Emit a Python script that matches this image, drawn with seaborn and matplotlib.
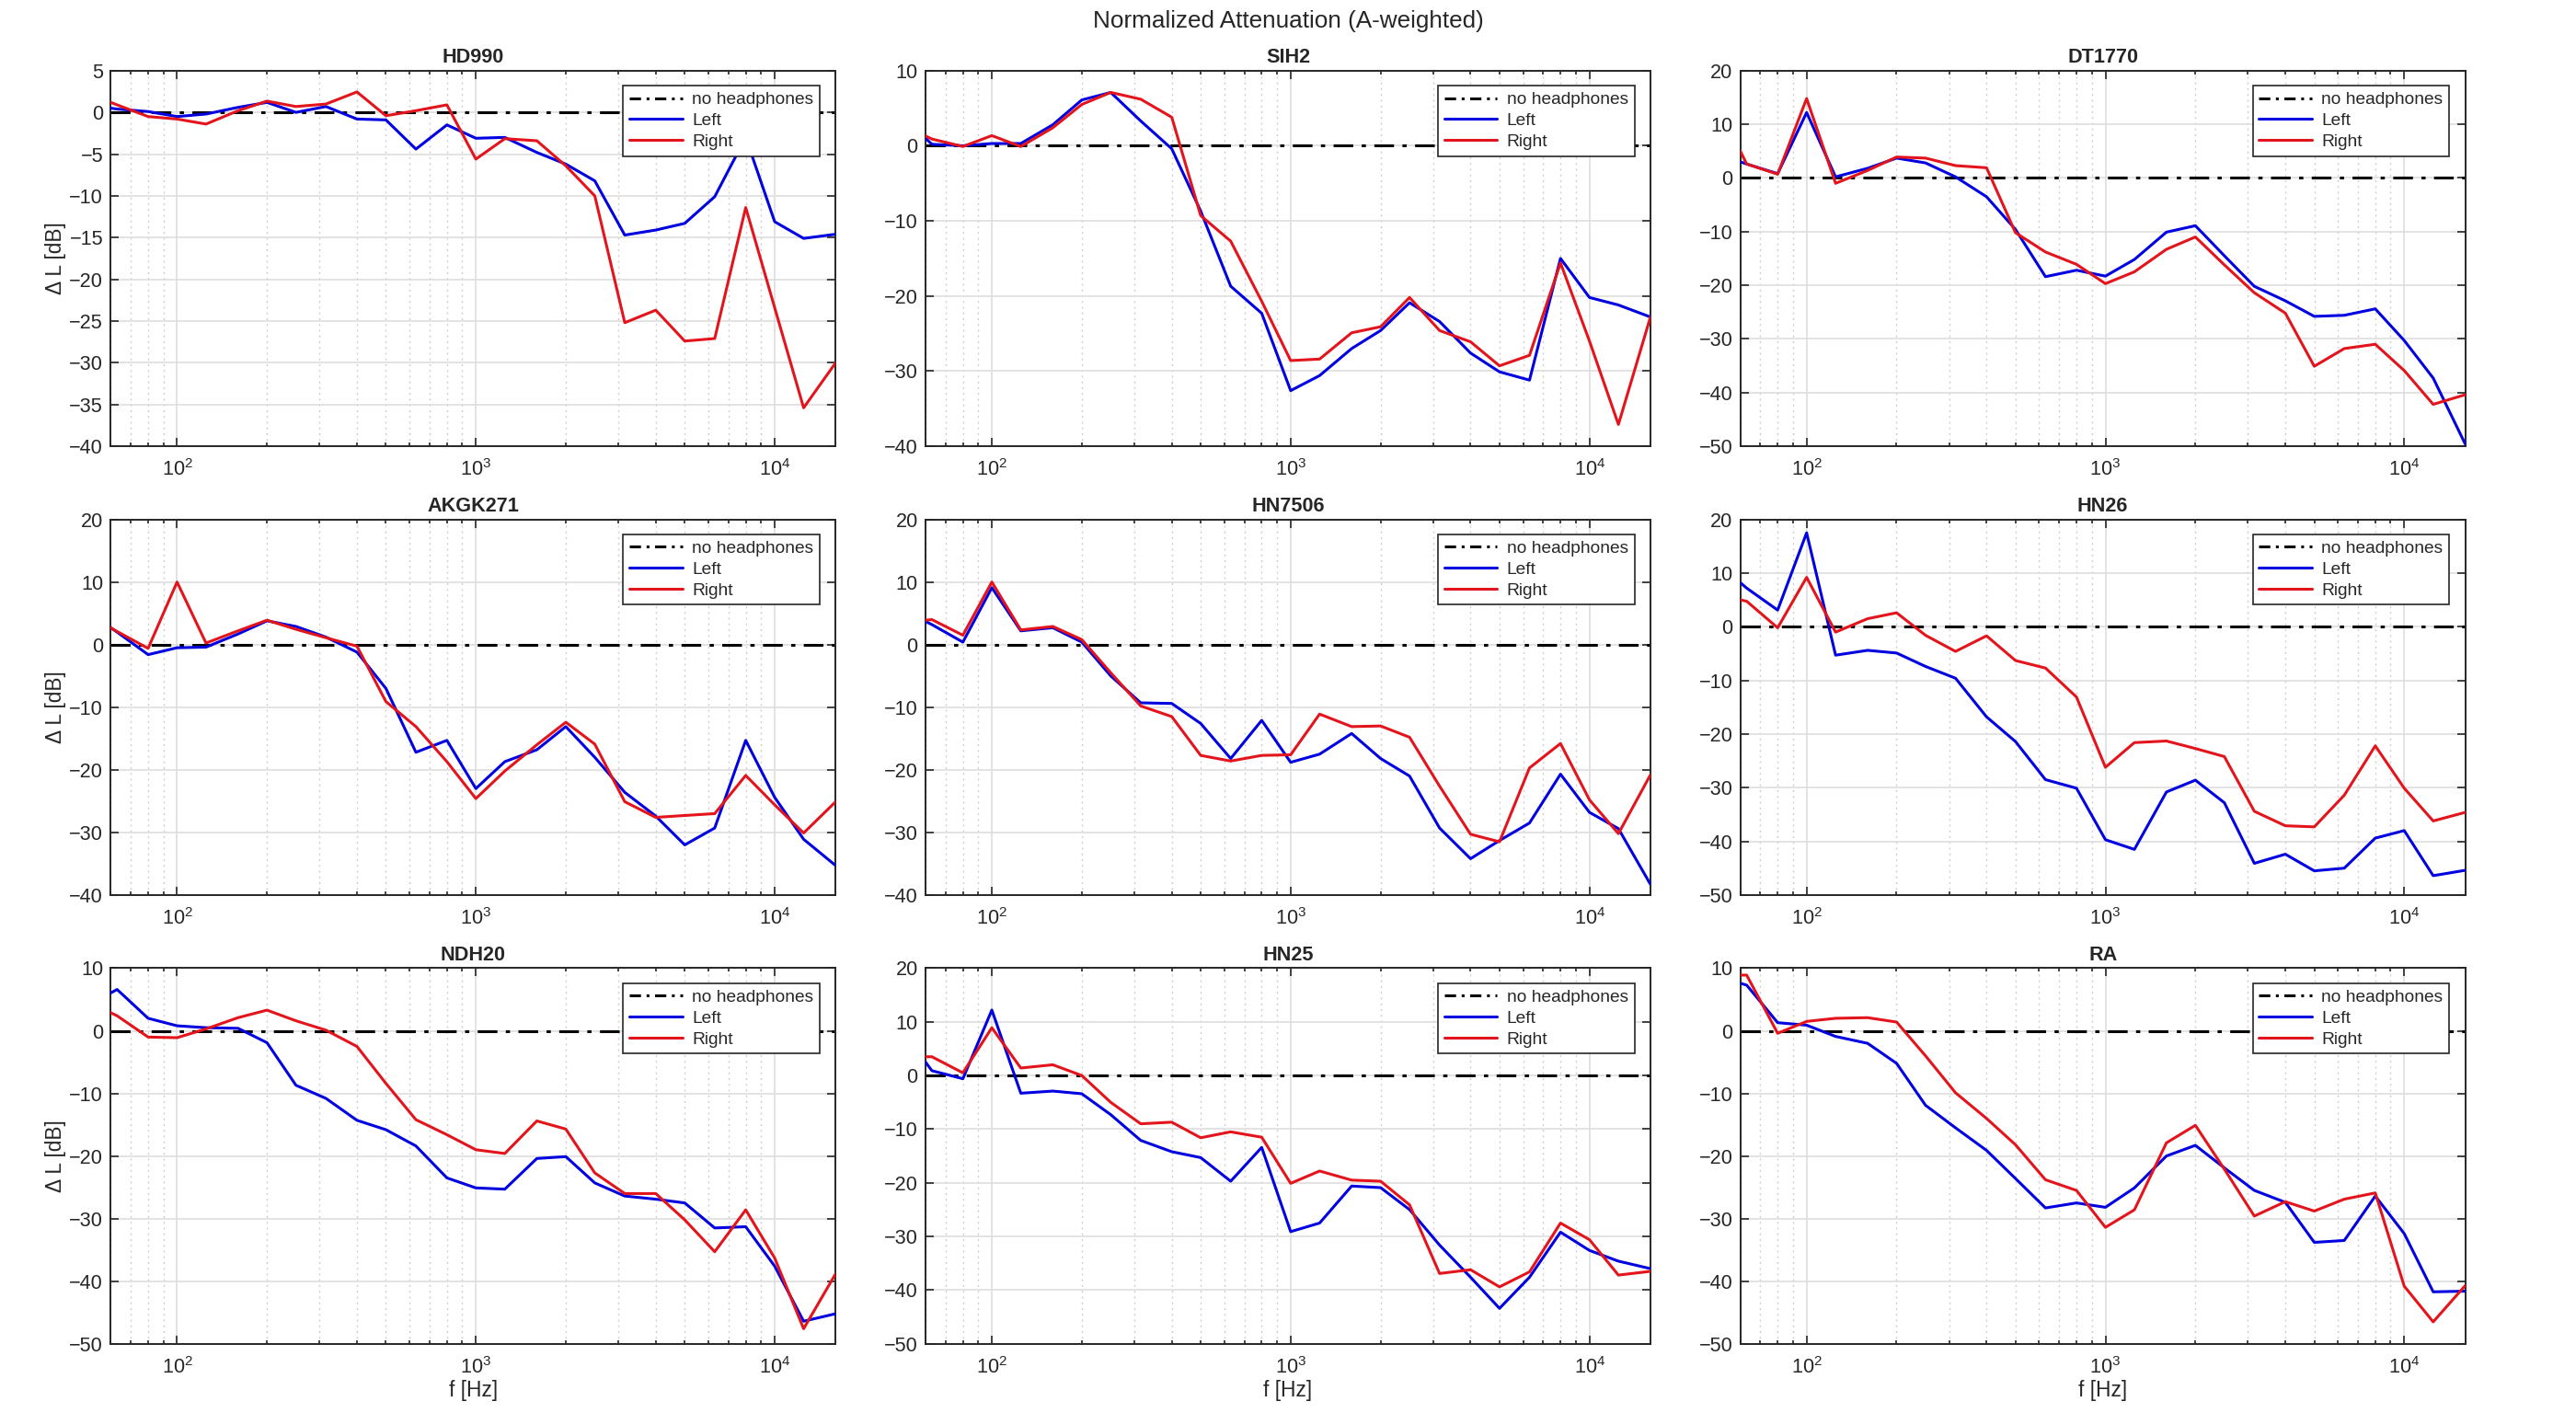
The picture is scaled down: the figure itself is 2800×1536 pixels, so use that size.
import numpy as np
import pandas as pd
import matplotlib
matplotlib.use("Agg")
import matplotlib.pyplot as plt
import seaborn as sns
from matplotlib.lines import Line2D
from matplotlib import ticker

# ---------------- data ----------------
freqs = [50, 63, 80, 100, 125, 160, 200, 250, 315, 400, 500, 630, 800, 1000,
         1250, 1600, 2000, 2500, 3150, 4000, 5000, 6300, 8000, 10000, 12500, 16000]

titles = ["HD990", "SIH2", "DT1770", "AKGK271", "HN7506", "HN26", "NDH20", "HN25", "RA"]

hd990_left = [0.9, 0.4, 0.1, -0.5, -0.2, 0.6, 1.2, 0.0, 0.7, -0.8, -0.9, -4.4, -1.5, -3.1,
              -3.0, -4.8, -6.2, -8.2, -14.7, -14.1, -13.3, -10.1, -3.0, -13.1, -15.1, -14.6]
hd990_right = [2.3, 0.9, -0.5, -0.8, -1.4, 0.2, 1.35, 0.7, 1.0, 2.45, -0.4, 0.2, 0.9, -5.6,
               -3.15, -3.4, -6.4, -10.0, -25.2, -23.7, -27.4, -27.1, -11.4, -23.4, -35.4, -30.0]

sih2_left = [4.0, 0.2, 0.0, 0.3, 0.3, 2.8, 6.1, 7.1, 3.3, -0.4, -8.7, -18.7, -22.3, -32.6,
             -30.6, -27.0, -24.6, -20.9, -23.4, -27.6, -30.1, -31.2, -15.0, -20.2, -21.2, -22.8]
sih2_right = [2.8, 0.9, -0.1, 1.35, -0.1, 2.4, 5.5, 7.1, 6.2, 3.8, -9.3, -12.7, -20.7, -28.6,
              -28.4, -24.9, -24.1, -20.2, -24.6, -26.1, -29.3, -27.9, -15.6, -26.0, -37.1, -22.8]

dt1770_left = [4.5, 2.6, 0.8, 12.2, 0.2, 1.8, 3.7, 2.8, 0.2, -3.5, -9.6, -18.4, -17.2, -18.3,
               -15.2, -10.1, -8.9, -14.5, -20.2, -22.9, -25.8, -25.6, -24.4, -30.3, -37.3, -49.6]
dt1770_right = [14.0, 2.6, 0.7, 14.8, -1.0, 1.4, 3.9, 3.7, 2.3, 1.9, -10.2, -13.8, -16.1, -19.7,
                -17.5, -13.3, -11.0, -16.2, -21.4, -25.2, -35.1, -31.8, -31.0, -35.9, -42.2, -40.4]

akgk271_left = [5.3, 2.0, -1.6, -0.5, -0.4, 1.7, 3.8, 2.9, 1.2, -1.2, -7.0, -17.2, -15.3, -23.0,
                -18.7, -16.8, -13.1, -18.0, -23.6, -27.4, -32.0, -29.3, -15.3, -24.4, -31.1, -35.3]
akgk271_right = [4.8, 2.1, -0.6, 10.0, 0.25, 2.2, 3.9, 2.45, 1.1, -0.25, -9.1, -13.1, -18.7, -24.6,
                 -20.2, -16.0, -12.4, -15.9, -25.1, -27.6, -27.3, -27.0, -20.9, -25.6, -30.1, -25.1]

hn7506_left = [5.6, 3.2, 0.4, 9.1, 2.2, 2.7, 0.4, -5.0, -9.3, -9.4, -12.6, -18.2, -12.1, -18.8,
               -17.5, -14.2, -18.2, -21.0, -29.3, -34.2, -31.3, -28.5, -20.7, -26.8, -29.4, -38.3]
hn7506_right = [3.5, 4.0, 1.5, 10.0, 2.35, 2.9, 0.8, -4.5, -9.8, -11.5, -17.7, -18.6, -17.7, -17.6,
                -11.1, -13.1, -13.0, -14.8, -22.6, -30.3, -31.5, -19.7, -15.8, -24.8, -30.2, -20.8]

hn26_left = [12.0, 7.2, 3.1, 17.5, -5.3, -4.4, -4.9, -7.4, -9.6, -16.8, -21.4, -28.5, -30.1, -39.7,
             -41.5, -30.8, -28.6, -32.8, -44.1, -42.4, -45.5, -45.0, -39.4, -38.0, -46.4, -45.4]
hn26_right = [6.0, 4.75, -0.2, 9.2, -1.0, 1.5, 2.6, -1.6, -4.6, -1.7, -6.3, -7.7, -13.1, -26.2,
              -21.6, -21.3, -22.7, -24.2, -34.4, -37.1, -37.3, -31.4, -22.2, -30.1, -36.2, -34.6]

ndh20_left = [4.0, 6.6, 2.0, 0.8, 0.5, 0.4, -1.9, -8.7, -10.8, -14.3, -15.8, -18.4, -23.5, -25.1,
              -25.3, -20.4, -20.1, -24.3, -26.4, -26.9, -27.5, -31.5, -31.3, -37.6, -46.4, -45.2]
ndh20_right = [4.7, 2.4, -1.0, -1.1, 0.3, 2.1, 3.3, 1.6, 0.1, -2.5, -8.4, -14.2, -16.6, -19.0,
               -19.6, -14.4, -15.7, -22.7, -26.0, -26.0, -30.2, -35.3, -28.6, -36.3, -47.6, -38.8]

hn25_left = [8.5, 0.9, -0.6, 12.2, -3.3, -2.9, -3.4, -7.3, -12.1, -14.2, -15.3, -19.7, -13.4, -29.1,
             -27.5, -20.6, -20.9, -25.0, -31.6, -37.6, -43.4, -37.6, -29.2, -32.6, -34.6, -36.0]
hn25_right = [3.5, 3.5, 0.5, 8.9, 1.4, 2.0, 0.0, -5.0, -9.0, -8.7, -11.6, -10.5, -11.5, -20.1,
              -17.8, -19.5, -19.7, -24.1, -36.9, -36.2, -39.4, -36.6, -27.5, -30.6, -37.2, -36.5]

ra_left = [8.7, 7.3, 1.3, 0.9, -0.9, -2.0, -5.2, -11.9, -15.5, -19.1, -23.6, -28.3, -27.5, -28.2,
           -25.1, -20.0, -18.3, -21.9, -25.5, -27.4, -33.8, -33.5, -26.4, -32.4, -41.7, -41.6]
ra_right = [8.9, 8.9, -0.4, 1.5, 2.0, 2.1, 1.4, -4.0, -9.9, -14.0, -18.2, -23.8, -25.5, -31.4,
            -28.6, -17.9, -15.1, -22.1, -29.6, -27.3, -28.8, -26.9, -25.9, -40.8, -46.5, -40.7]

left_series = [hd990_left, sih2_left, dt1770_left, akgk271_left, hn7506_left,
               hn26_left, ndh20_left, hn25_left, ra_left]
right_series = [hd990_right, sih2_right, dt1770_right, akgk271_right, hn7506_right,
                hn26_right, ndh20_right, hn25_right, ra_right]

y_limits = [(-40, 5), (-40, 10), (-50, 20), (-40, 20), (-40, 20),
            (-50, 20), (-50, 10), (-50, 20), (-50, 10)]
y_steps = [5, 10, 10, 10, 10, 10, 10, 10, 10]

x_limits = (60, 16000)
x_ticks = [100, 1000, 10000]

suptitle = "Normalized Attenuation (A-weighted)"
legend_labels = ["no headphones", "Left", "Right"]
xlabel = "f [Hz]"
ylabel = "Δ L [dB]"

# ---------------- style ----------------
sns.set_style("ticks")
plt.rcParams["font.family"] = ["Liberation Sans", "DejaVu Sans"]
plt.rcParams["mathtext.fontset"] = "custom"
plt.rcParams["mathtext.rm"] = "Liberation Sans"
plt.rcParams["mathtext.it"] = "Liberation Sans:italic"
plt.rcParams["mathtext.bf"] = "Liberation Sans:bold"

colors = {"Left": "#0000e0", "Right": "#e3141c"}

fig, axes = plt.subplots(3, 3, figsize=(14, 7.68), dpi=200)
fig.subplots_adjust(left=0.043, right=0.957, top=0.95, bottom=0.049,
                    wspace=0.124, hspace=0.195)

for i, ax in enumerate(axes.flat):
    df = pd.DataFrame({
        "f": freqs * 2,
        "dL": list(left_series[i]) + list(right_series[i]),
        "ear": ["Left"] * len(freqs) + ["Right"] * len(freqs),
    })
    ax.set_xscale("log")
    ax.axhline(0, color="black", linestyle=(0, (7, 3, 1.5, 3)), linewidth=1.1, zorder=2)
    sns.lineplot(data=df, x="f", y="dL", hue="ear", palette=colors,
                 linewidth=1.1, ax=ax, legend=False, zorder=3, sort=True,
                 estimator=None)
    ax.set_xlim(*x_limits)
    lo, hi = y_limits[i]
    ax.set_ylim(lo, hi)
    ax.set_yticks(np.arange(lo, hi + 0.1, y_steps[i]))
    ax.set_xticks(x_ticks)
    ax.xaxis.set_minor_locator(ticker.LogLocator(base=10, subs=np.arange(2, 10), numticks=20))
    ax.xaxis.set_minor_formatter(ticker.NullFormatter())
    ax.grid(True, which="major", color="#dedede", linewidth=0.6, linestyle="-", zorder=0)
    ax.grid(True, which="minor", axis="x", color="#cfcfcf", linewidth=0.5,
            linestyle=(0, (1.5, 3)), zorder=0)
    ax.set_axisbelow(True)
    ax.tick_params(which="both", direction="in", top=True, right=True,
                   labelsize=7.8, colors="#262626", width=0.6)
    ax.tick_params(which="major", length=3.2)
    ax.tick_params(which="minor", length=1.6)
    ax.tick_params(axis="x", which="major", pad=5)
    ax.tick_params(axis="y", which="major", pad=3)
    for sp in ax.spines.values():
        sp.set_linewidth(0.7)
        sp.set_color("#262626")
    ax.set_title(titles[i], fontsize=7.8, fontweight="bold", pad=3)
    ax.set_xlabel(xlabel if i >= 6 else "", fontsize=8.2, labelpad=1)
    ax.set_ylabel(ylabel if i % 3 == 0 else "", fontsize=8.2, labelpad=1)

    handles = [
        Line2D([], [], color="black", linestyle=(0, (4, 2, 1, 2)), linewidth=1.1),
        Line2D([], [], color=colors["Left"], linewidth=1.1),
        Line2D([], [], color=colors["Right"], linewidth=1.1),
    ]
    leg = ax.legend(handles, legend_labels, loc="upper right",
                    bbox_to_anchor=(0.978, 0.96), borderaxespad=0,
                    fontsize=6.9, handlelength=3.0, handletextpad=0.55,
                    labelspacing=0.28, borderpad=0.35, frameon=True,
                    fancybox=False, framealpha=1, edgecolor="#262626")
    leg.get_frame().set_linewidth(0.6)

fig.suptitle(suptitle, fontsize=9.4, y=0.993, color="#262626")
fig.savefig("out.png", dpi=200)
